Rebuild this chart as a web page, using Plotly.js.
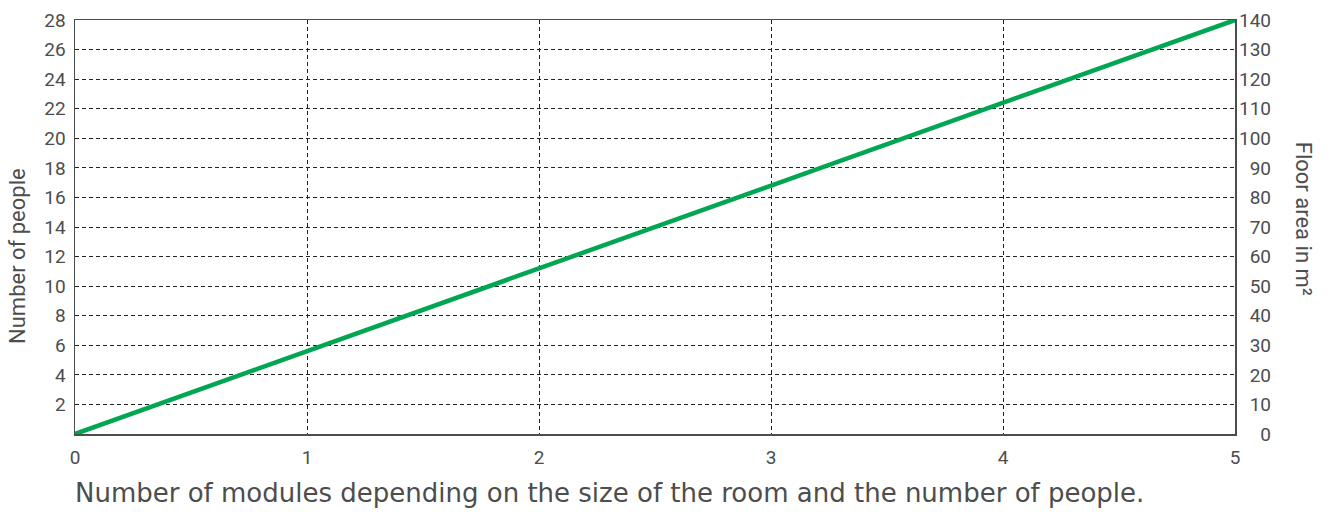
<!DOCTYPE html>
<html>
<head>
<meta charset="utf-8">
<script src="https://cdn.plot.ly/plotly-3.0.1.min.js"></script>
<style>html,body{margin:0;padding:0;background:#fff;}#chart{width:1330px;height:512px;}</style>
</head>
<body>
<div id="chart"></div>
<script>
const modules = [0, 5];
const people = [0, 28];
const leftTicks = [2, 4, 6, 8, 10, 12, 14, 16, 18, 20, 22, 24, 26, 28];
const rightTicks = [0, 10, 20, 30, 40, 50, 60, 70, 80, 90, 100, 110, 120, 130, 140];
const xTicks = [0, 1, 2, 3, 4, 5];
const xTitle = "Number of modules depending on the size of the room and the number of people.";
const yTitle = "Number of people";
const y2Title = "Floor area in m²";

const font = "Roboto, 'DejaVu Sans', sans-serif";
const gray = "#4d4d4d";
const pad = s => "\u2007".repeat(3 - s.length) + s;

const trace = {
  x: modules, y: people, type: "scatter", mode: "lines",
  line: {color: "#00a651", width: 4.5},
  hoverinfo: "skip", showlegend: false
};
const trace2 = {x: modules, y: [0, 140], yaxis: "y2", mode: "lines", line: {width: 0}, opacity: 0, showlegend: false, hoverinfo: "skip"};

const layout = {
  width: 1330, height: 512,
  margin: {l: 75, r: 95, t: 20, b: 78},
  paper_bgcolor: "#fff", plot_bgcolor: "#fff",
  font: {family: font, color: gray, size: 19},
  xaxis: {
    range: [0, 5], tickvals: xTicks, ticktext: xTicks.map(String),
    showgrid: true, gridcolor: "#222", griddash: "4px,3px", gridwidth: 1,
    zeroline: false, showline: true, mirror: true, linecolor: gray, linewidth: 1.5,
    ticks: "", ticklabelstandoff: 6, tickfont: {size: 19, color: gray}, automargin: false
  },
  yaxis: {
    range: [0, 28], tickvals: leftTicks, ticktext: leftTicks.map(String),
    showgrid: true, gridcolor: "#222", griddash: "4px,3px", gridwidth: 1,
    zeroline: false, showline: true, mirror: true, linecolor: gray, linewidth: 1.5,
    ticks: "", ticklabelstandoff: 4, tickfont: {size: 19, color: gray}, automargin: false
  },
  yaxis2: {
    range: [0, 140], tickvals: rightTicks, ticktext: rightTicks.map(v => pad(String(v))),
    overlaying: "y", side: "right", showgrid: false, zeroline: false,
    showline: false, ticks: "", ticklabelstandoff: 3, tickfont: {size: 19, color: gray}, automargin: false
  },
  annotations: [
    {text: xTitle, xref: "paper", yref: "paper", x: 0, y: 0, xanchor: "left", yanchor: "middle",
     yshift: -59, xshift: -2, showarrow: false, font: {size: 26, color: gray, family: "'DejaVu Sans', sans-serif"}},
    {text: yTitle, xref: "paper", yref: "paper", x: 0, y: 0.43, xanchor: "center", yanchor: "middle",
     xshift: -57, showarrow: false, textangle: -90, font: {size: 22, color: gray, family: font}},
    {text: y2Title, xref: "paper", yref: "paper", x: 1, y: 0.52, xanchor: "center", yanchor: "middle",
     xshift: 68, showarrow: false, textangle: 90, font: {size: 22, color: gray, family: font}}
  ]
};

Plotly.newPlot("chart", [trace, trace2], layout, {displayModeBar: false, staticPlot: true});
</script>
</body>
</html>
